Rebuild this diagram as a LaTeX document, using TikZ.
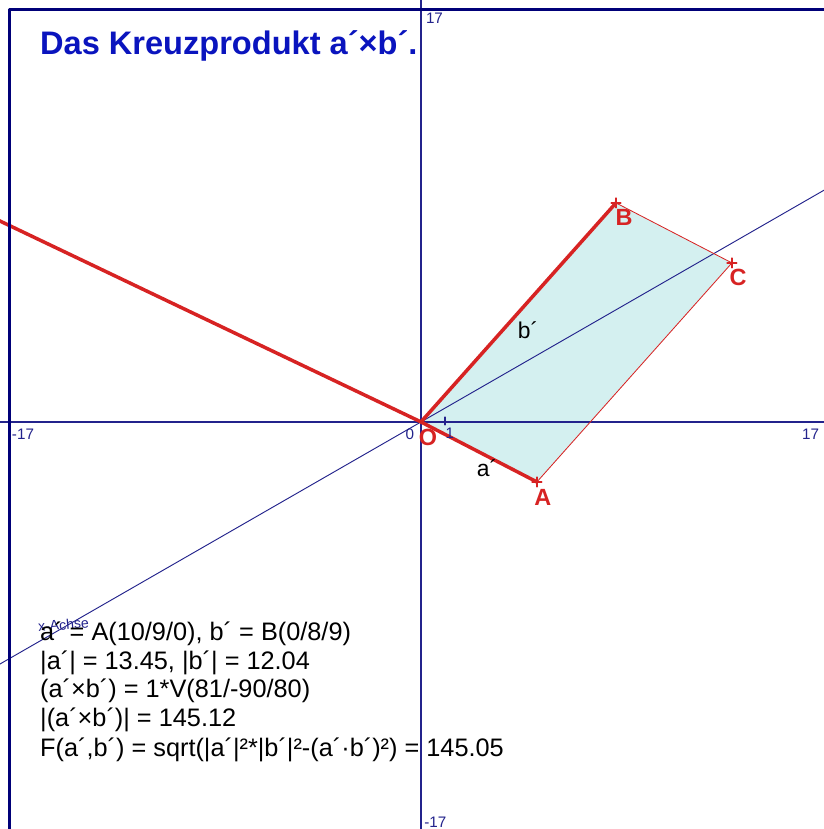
\documentclass[tikz,border=0pt]{standalone}
\usepackage{fontspec}
\setmainfont{Liberation Sans}
\definecolor{achse}{RGB}{35,35,140}
\definecolor{rahmen}{RGB}{0,0,120}
\definecolor{vekrot}{RGB}{215,35,35}
\definecolor{flaeche}{RGB}{212,240,240}
\definecolor{titelblau}{RGB}{10,20,190}
\tikzset{
  punkt/.style={text=vekrot, font=\fontsize{20}{22}\selectfont\bfseries},
  zahl/.style={text=achse, font=\fontsize{13}{15}\selectfont, inner sep=0pt},
  zeile/.style={anchor=base west, inner sep=0pt, font=\fontsize{21.6}{25}\selectfont},
  kreuz/.style={vekrot, line width=1.3pt}
}
\begin{document}
\begin{tikzpicture}[x=0.72cm, y=0.72cm, line join=round, line cap=round]
	\useasboundingbox (-17.54,-16.96) rectangle (16.79,17.58);
	\fill[white] (-17.54,-16.96) rectangle (16.79,17.58);
	\clip (-17.54,-16.96) rectangle (16.79,17.58);
	\coordinate (O) at (0,0);
	\coordinate (A) at (4.83,-2.5);
	\coordinate (B) at (8.125,9.125);
	\coordinate (C) at (12.955,6.625);
	\coordinate (nL) at (-18,8.59);
	\coordinate (xL) at (-18,-10.35);
	\coordinate (xR) at (18,10.35);
	\fill[flaeche] (O) -- (A) -- (C) -- (B) -- cycle;
	% Achsen
	\draw[achse, line width=1.2pt] (-18,0) -- (18,0) (0,-18) -- (0,18);
	\draw[achse, line width=1.2pt] (1,0.2) -- (1,-0.12);
	\draw[achse, line width=0.8pt] (xL) -- (xR);
	% Vektoren
	\draw[vekrot, line width=3pt] (nL) -- (O);
	\draw[vekrot, line width=3pt] (A) -- (O) -- (B);
	\draw[vekrot, line width=0.7pt] (A) -- (C) -- (B);
	\foreach \p in {A,B,C}
		\draw[kreuz] (\p) ++(-0.2,0) -- ++(0.4,0) (\p) ++(0,-0.2) -- ++(0,0.4);
	\draw[rahmen, line width=2.4pt] (-17.15,-18) -- (-17.15,17.19) -- (18,17.19);
	% Beschriftung
	\node[punkt] (lO) at (0.29,-0.625) {O};
	\node[punkt] (lA) at (5.08,-3.125) {A};
	\node[punkt] (lB) at (8.46,8.54) {B};
	\node[punkt] (lC) at (13.21,6.0) {C};
	\node[font=\fontsize{19.5}{21}\selectfont] (la) at (2.75,-1.92) {a´};
	\node[font=\fontsize{19.5}{21}\selectfont] (lb) at (4.46,3.83) {b´};
	\node[zahl, anchor=west] (yo) at (0.2,16.8) {17};
	\node[zahl, anchor=west] (yu) at (0.13,-16.67) {-17};
	\node[zahl, anchor=west] (xl) at (-17.05,-0.5) {-17};
	\node[zahl, anchor=east] (xr) at (16.6,-0.5) {17};
	\node[zahl] (null) at (-0.46,-0.5) {0};
	\node[zahl] (eins) at (1.2,-0.46) {1};
	\node[text=achse, font=\fontsize{12}{13}\selectfont, rotate=5] (xachse) at (-14.9,-8.45) {x-Achse};
	\node[anchor=west, inner sep=0pt, text=titelblau, font=\fontsize{27.8}{32}\selectfont\bfseries] (titel) at (-15.875,15.65) {Das Kreuzprodukt a´×b´.};
	\node[zeile] (z1) at (-15.875,-9.125) {a´ = A(10/9/0), b´ = B(0/8/9)};
	\node[zeile] (z2) at (-15.875,-10.33) {|a´| = 13.45, |b´| = 12.04};
	\node[zeile] (z3) at (-15.875,-11.5) {(a´×b´) = 1*V(81/-90/80)};
	\node[zeile] (z4) at (-15.875,-12.71) {|(a´×b´)| = 145.12};
	\node[zeile] (z5) at (-15.875,-13.92) {F(a´,b´) = sqrt(|a´|²*|b´|²-(a´·b´)²) = 145.05};
\end{tikzpicture}
\end{document}
